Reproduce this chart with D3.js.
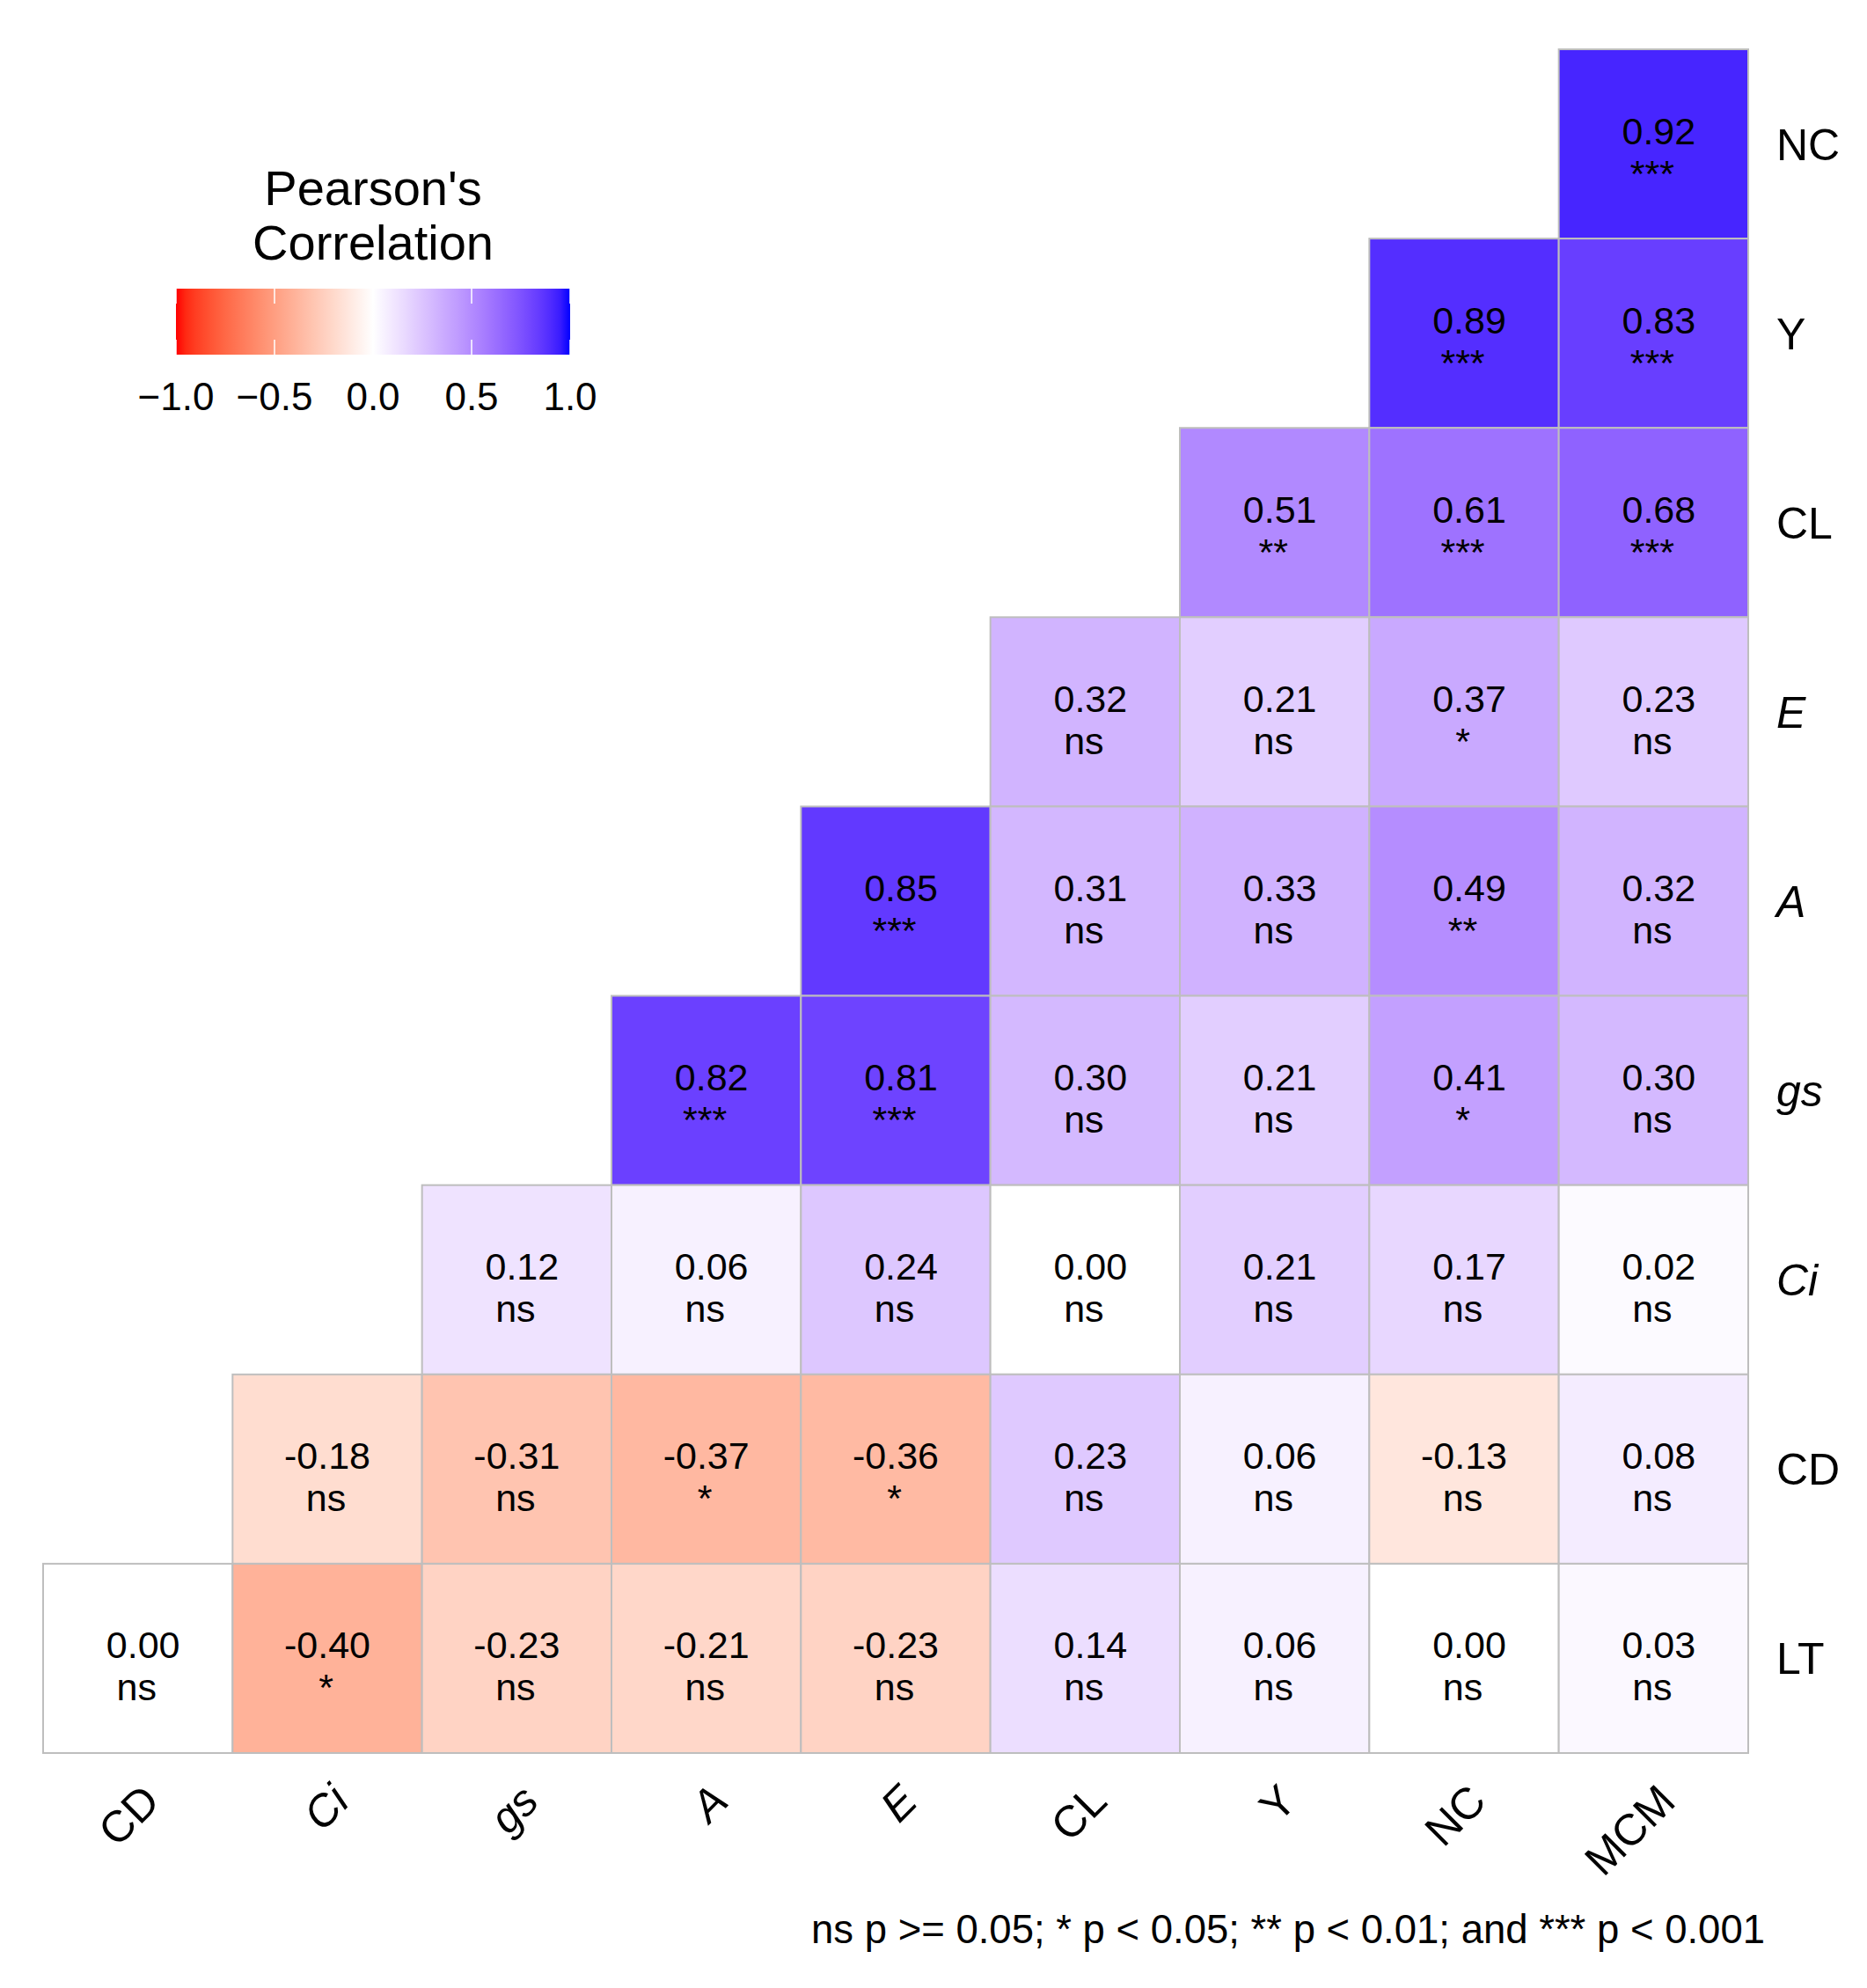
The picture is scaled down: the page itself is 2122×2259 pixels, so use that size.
<!DOCTYPE html>
<html>
<head>
<meta charset="utf-8">
<title>Pearson's Correlation</title>
<style>
  body { margin: 0; background: #fff; }
  text { font-family: "Liberation Sans", Arial, sans-serif; fill: #000; }
</style>
</head>
<body>
<svg id="chart" width="2122" height="2259"></svg>
<script src="https://cdn.jsdelivr.net/npm/d3@7"></script>
<script>
// x-axis variables (left to right)
var xVars = ["CD", "Ci", "gs", "A", "E", "CL", "Y", "NC", "MCM"];
// y-axis variables (top to bottom)
var yVars = ["NC", "Y", "CL", "E", "A", "gs", "Ci", "CD", "LT"];
var italicVars = ["Ci", "gs", "A", "E"];

// correlations, one row per y variable, columns follow xVars (null = not drawn)
var corrNC = [null, null, null, null, null, null, null, null, 0.92];
var corrY  = [null, null, null, null, null, null, null, 0.89, 0.83];
var corrCL = [null, null, null, null, null, null, 0.51, 0.61, 0.68];
var corrE  = [null, null, null, null, null, 0.32, 0.21, 0.37, 0.23];
var corrA  = [null, null, null, null, 0.85, 0.31, 0.33, 0.49, 0.32];
var corrGs = [null, null, null, 0.82, 0.81, 0.30, 0.21, 0.41, 0.30];
var corrCi = [null, null, 0.12, 0.06, 0.24, 0.00, 0.21, 0.17, 0.02];
var corrCD = [null, -0.18, -0.31, -0.37, -0.36, 0.23, 0.06, -0.13, 0.08];
var corrLT = [0.00, -0.40, -0.23, -0.21, -0.23, 0.14, 0.06, 0.00, 0.03];

// significance codes, same layout
var sigNC = [null, null, null, null, null, null, null, null, "***"];
var sigY  = [null, null, null, null, null, null, null, "***", "***"];
var sigCL = [null, null, null, null, null, null, "**", "***", "***"];
var sigE  = [null, null, null, null, null, "ns", "ns", "*", "ns"];
var sigA  = [null, null, null, null, "***", "ns", "ns", "**", "ns"];
var sigGs = [null, null, null, "***", "***", "ns", "ns", "*", "ns"];
var sigCi = [null, null, "ns", "ns", "ns", "ns", "ns", "ns", "ns"];
var sigCD = [null, "ns", "ns", "*", "*", "ns", "ns", "ns", "ns"];
var sigLT = ["ns", "*", "ns", "ns", "ns", "ns", "ns", "ns", "ns"];

var legendTicks = [-1, -0.5, 0, 0.5, 1];
var footnote = "ns p >= 0.05; * p < 0.05; ** p < 0.01; and *** p < 0.001";

var corrRows = [corrNC, corrY, corrCL, corrE, corrA, corrGs, corrCi, corrCD, corrLT];
var sigRows = [sigNC, sigY, sigCL, sigE, sigA, sigGs, sigCi, sigCD, sigLT];

var cells = [];
yVars.forEach(function(yv, i) {
    xVars.forEach(function(xv, j) {
        if (corrRows[i][j] !== null) {
            cells.push({x: xv, y: yv, r: corrRows[i][j], sig: sigRows[i][j]});
        }
    });
});

// CIELAB with D65 white (as R's farver uses), d3's own Lab is D50
function toLab(c) {
    var rgb = d3.rgb(c);
    function lin(v) { v /= 255; return v <= 0.04045 ? v / 12.92 : Math.pow((v + 0.055) / 1.055, 2.4); }
    var r = lin(rgb.r), g = lin(rgb.g), b = lin(rgb.b);
    var X = (0.4124564 * r + 0.3575761 * g + 0.1804375 * b) / 0.95047;
    var Y = (0.2126729 * r + 0.7151522 * g + 0.0721750 * b);
    var Z = (0.0193339 * r + 0.1191920 * g + 0.9503041 * b) / 1.08883;
    function f(t) { return t > 216 / 24389 ? Math.cbrt(t) : (24389 / 27 * t + 16) / 116; }
    var fx = f(X), fy = f(Y), fz = f(Z);
    return [116 * fy - 16, 500 * (fx - fy), 200 * (fy - fz)];
}
function fromLab(lab) {
    var fy = (lab[0] + 16) / 116, fx = fy + lab[1] / 500, fz = fy - lab[2] / 200;
    function fi(t) { return t * t * t > 216 / 24389 ? t * t * t : (116 * t - 16) / (24389 / 27); }
    var X = fi(fx) * 0.95047, Y = fi(fy), Z = fi(fz) * 1.08883;
    var r = 3.2404542 * X - 1.5371385 * Y - 0.4985314 * Z;
    var g = -0.9692660 * X + 1.8760108 * Y + 0.0415560 * Z;
    var b = 0.0556434 * X - 0.2040259 * Y + 1.0572252 * Z;
    function gam(v) {
        v = v <= 0.0031308 ? 12.92 * v : 1.055 * Math.pow(Math.max(v, 0), 1 / 2.4) - 0.055;
        return Math.round(Math.max(0, Math.min(1, v)) * 255);
    }
    return d3.rgb(gam(r), gam(g), gam(b)).formatHex();
}
function interpolateLab65(a, b) {
    var la = toLab(a), lb = toLab(b);
    return function(t) {
        return fromLab([la[0] + (lb[0] - la[0]) * t, la[1] + (lb[1] - la[1]) * t, la[2] + (lb[2] - la[2]) * t]);
    };
}

var svg = d3.select("#chart");

var x = d3.scaleBand().domain(xVars).range([49, 1987]);
var y = d3.scaleBand().domain(yVars).range([56, 1992]);

var color = d3.scaleLinear()
    .domain([-1, 0, 1])
    .range(["red", "white", "blue"])
    .interpolate(interpolateLab65);

// tiles
svg.append("g").selectAll("rect")
    .data(cells)
    .enter().append("rect")
    .attr("x", function(d) { return x(d.x); })
    .attr("y", function(d) { return y(d.y); })
    .attr("width", x.bandwidth())
    .attr("height", y.bandwidth())
    .attr("fill", function(d) { return color(d.r); })
    .attr("stroke", "#BEBEBE")
    .attr("stroke-width", 2);

// cell labels
var lab = svg.append("g").selectAll("g")
    .data(cells)
    .enter().append("g")
    .attr("transform", function(d) {
        return "translate(" + (x(d.x) + x.bandwidth() / 2) + "," + (y(d.y) + y.bandwidth() / 2) + ")";
    });

lab.append("text")
    .attr("text-anchor", "middle")
    .attr("font-size", 43)
    .attr("dx", function(d) { return d.r < 0 ? 0 : 6; })
    .attr("y", 0)
    .text(function(d) { return d.r.toFixed(2); });

lab.append("text")
    .attr("text-anchor", "middle")
    .attr("font-size", 43)
    .attr("dx", -1.5)
    .attr("y", 48)
    .text(function(d) { return d.sig; });

// right axis labels
svg.append("g").selectAll("text")
    .data(yVars)
    .enter().append("text")
    .attr("x", 2019)
    .attr("y", function(d) { return y(d) + y.bandwidth() / 2; })
    .attr("dy", "0.36em")
    .attr("font-size", 50)
    .attr("font-style", function(d) { return italicVars.indexOf(d) >= 0 ? "italic" : "normal"; })
    .text(function(d) { return d; });

// bottom axis labels, rotated 45 degrees
svg.append("g").selectAll("text")
    .data(xVars)
    .enter().append("text")
    .attr("transform", function(d) {
        return "translate(" + (x(d) + x.bandwidth() / 2 + 2) + ",2024) rotate(-45)";
    })
    .attr("text-anchor", "end")
    .attr("dy", "0.72em")
    .attr("font-size", 50)
    .attr("font-style", function(d) { return italicVars.indexOf(d) >= 0 ? "italic" : "normal"; })
    .text(function(d) { return d; });

// legend
var lx = d3.scaleLinear().domain([-1, 1]).range([200, 648]);
var barTop = 328, barH = 75;

var grad = svg.append("defs").append("linearGradient")
    .attr("id", "corrGrad")
    .attr("x1", "0%").attr("x2", "100%").attr("y1", "0%").attr("y2", "0%");
d3.range(0, 41).forEach(function(i) {
    var t = i / 40;
    grad.append("stop")
        .attr("offset", (t * 100) + "%")
        .attr("stop-color", color(-1 + 2 * t));
});

var legend = svg.append("g");

legend.append("text")
    .attr("x", 424).attr("y", 233)
    .attr("text-anchor", "middle")
    .attr("font-size", 56)
    .text("Pearson's");
legend.append("text")
    .attr("x", 424).attr("y", 295)
    .attr("text-anchor", "middle")
    .attr("font-size", 56)
    .text("Correlation");

legend.append("rect")
    .attr("x", lx(-1)).attr("y", barTop)
    .attr("width", lx(1) - lx(-1)).attr("height", barH)
    .attr("fill", "url(#corrGrad)");

legend.selectAll("line.tt")
    .data(legendTicks)
    .enter().append("line")
    .attr("class", "tt")
    .attr("x1", function(d) { return lx(d); })
    .attr("x2", function(d) { return lx(d); })
    .attr("y1", barTop).attr("y2", barTop + 17)
    .attr("stroke", "white").attr("stroke-width", 1.5);

legend.selectAll("line.tb")
    .data(legendTicks)
    .enter().append("line")
    .attr("class", "tb")
    .attr("x1", function(d) { return lx(d); })
    .attr("x2", function(d) { return lx(d); })
    .attr("y1", barTop + barH - 17).attr("y2", barTop + barH)
    .attr("stroke", "white").attr("stroke-width", 1.5);

legend.selectAll("text.tl")
    .data(legendTicks)
    .enter().append("text")
    .attr("class", "tl")
    .attr("x", function(d) { return lx(d); })
    .attr("y", 466)
    .attr("text-anchor", "middle")
    .attr("font-size", 44)
    .text(function(d) { return d.toFixed(1).replace("-", "\u2212"); });

// caption
svg.append("text")
    .attr("x", 2006).attr("y", 2208)
    .attr("text-anchor", "end")
    .attr("font-size", 45.5)
    .text(footnote);
</script>
</body>
</html>
